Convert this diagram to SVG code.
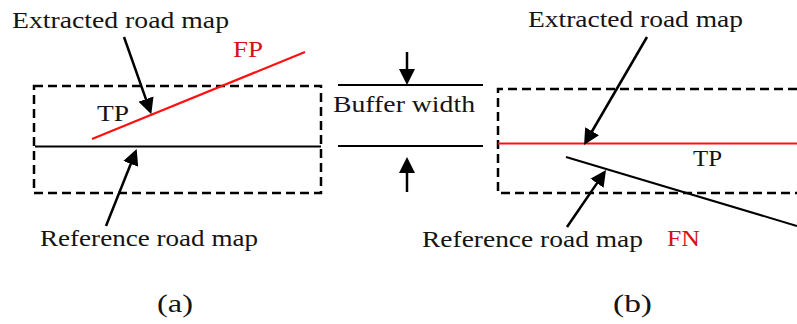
<svg xmlns="http://www.w3.org/2000/svg" width="797" height="324" viewBox="0 0 797 324">
  <style>
    .lbl { font-family: "Liberation Serif", "Times New Roman", serif; font-size: 24px; fill: #141414; }
    .red { fill: #d4101c; }
    .cap { font-size: 26px; }
    .buffer { fill: none; stroke: #000; stroke-width: 2.5; stroke-dasharray: 9 5; }
    .road { fill: none; stroke: #000; stroke-width: 2; }
    .road-x { fill: none; stroke: #ff1010; stroke-width: 2.2; }
    .arrow { fill: none; stroke: #000; stroke-width: 2.5; marker-end: url(#head); }
  </style>
  <defs>
    <marker id="head" markerUnits="userSpaceOnUse" markerWidth="17" markerHeight="16" refX="5" refY="8" orient="auto">
      <path d="M0,0 L16,8 L0,16 z" fill="#000"/>
    </marker>
  </defs>

  <rect width="797" height="324" fill="#fff"/>

  <!-- (a) extracted road inside / leaving the buffer -->
  <g id="panel-a">
    <rect class="buffer" x="34" y="86" width="287" height="107"/>
    <line class="road" x1="35" y1="146.5" x2="321" y2="146.5"/>
    <line class="road-x" x1="92" y1="139" x2="305" y2="52"/>
    <text class="lbl" x="12" y="28" textLength="217" lengthAdjust="spacingAndGlyphs">Extracted road map</text>
    <text class="lbl red" x="233" y="57" textLength="30" lengthAdjust="spacingAndGlyphs">FP</text>
    <text class="lbl" x="97" y="121" textLength="32" lengthAdjust="spacingAndGlyphs">TP</text>
    <text class="lbl" x="40" y="246" textLength="218" lengthAdjust="spacingAndGlyphs">Reference road map</text>
    <text class="lbl cap" x="157" y="312" textLength="36" lengthAdjust="spacingAndGlyphs">(a)</text>
  </g>

  <!-- buffer width legend -->
  <g id="buffer-legend">
    <line class="road" x1="338" y1="85" x2="483" y2="85"/>
    <line class="road" x1="338" y1="146" x2="483" y2="146"/>
    <text class="lbl" x="333" y="112" textLength="142" lengthAdjust="spacingAndGlyphs">Buffer width</text>
  </g>

  <!-- (b) reference road leaving the buffer -->
  <g id="panel-b">
    <path class="buffer" d="M797,89 H498 V193 H797"/>
    <line class="road-x" x1="498" y1="143.5" x2="797" y2="143.5"/>
    <line class="road" x1="566" y1="157" x2="797" y2="226"/>
    <text class="lbl" x="528" y="27" textLength="215" lengthAdjust="spacingAndGlyphs">Extracted road map</text>
    <text class="lbl" x="693" y="166" textLength="29" lengthAdjust="spacingAndGlyphs">TP</text>
    <text class="lbl" x="422" y="247" textLength="221" lengthAdjust="spacingAndGlyphs">Reference road map</text>
    <text class="lbl red" x="667" y="246" textLength="33" lengthAdjust="spacingAndGlyphs">FN</text>
    <text class="lbl cap" x="613" y="312" textLength="39" lengthAdjust="spacingAndGlyphs">(b)</text>
  </g>

  <!-- pointer arrows -->
  <g id="connectors">
    <line class="arrow" x1="124" y1="37" x2="147.6" y2="103.8"/>
    <line class="arrow" x1="106" y1="226" x2="132.6" y2="159.2"/>
    <line class="arrow" x1="407" y1="52" x2="407" y2="74"/>
    <line class="arrow" x1="407" y1="192" x2="407" y2="168"/>
    <line class="arrow" x1="647" y1="37" x2="589.6" y2="135.5"/>
    <line class="arrow" x1="567" y1="227" x2="599.8" y2="179.1"/>
  </g>
</svg>
